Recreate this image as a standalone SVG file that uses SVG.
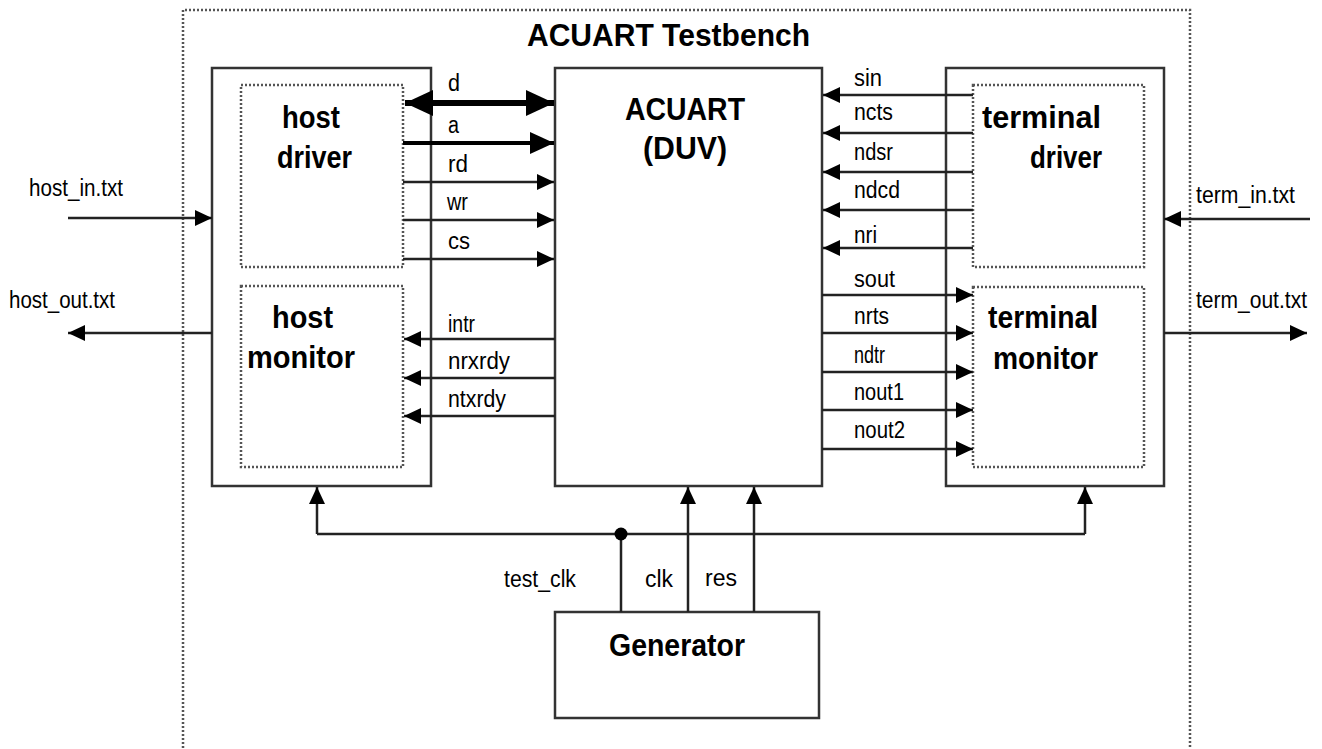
<svg xmlns="http://www.w3.org/2000/svg" width="1322" height="749" viewBox="0 0 1322 749">
<style>
.box{fill:#fff;stroke:#333;stroke-width:2.5}
.dot{fill:none;stroke:#555;stroke-width:2.5;stroke-dasharray:2 2}
.w{stroke:#222;stroke-width:2.5;fill:none}
.t{font-family:"Liberation Sans",Arial,sans-serif;font-size:23px;fill:#000}
.b{font-family:"Liberation Sans",Arial,sans-serif;font-size:32px;font-weight:bold;fill:#000}
</style>
<defs>
<marker id="ah" markerUnits="userSpaceOnUse" markerWidth="18" markerHeight="16" refX="17" refY="8" orient="auto"><path d="M0,0 L17,8 L0,16 z" fill="#000"/></marker>
<marker id="am" markerUnits="userSpaceOnUse" markerWidth="25" markerHeight="22" refX="24" refY="11" orient="auto"><path d="M0,0 L24,11 L0,22 z" fill="#000"/></marker>
<marker id="ab" markerUnits="userSpaceOnUse" markerWidth="29" markerHeight="26" refX="28" refY="13" orient="auto-start-reverse"><path d="M0,0 L28,13 L0,26 z" fill="#000"/></marker>
</defs>
<rect width="1322" height="749" fill="#fff"/>
<g id="testbench">
<path class="dot" d="M183,760 L183,10 L1190,10 L1190,760"/>
<text class="b" x="527" y="46" textLength="283" lengthAdjust="spacingAndGlyphs">ACUART Testbench</text>
</g>
<g id="host">
<rect class="box" x="212" y="68" width="219" height="418"/>
</g>
<g id="host_driver">
<rect class="dot" x="241" y="85" width="162" height="182"/>
<text class="b" x="282" y="128" textLength="58" lengthAdjust="spacingAndGlyphs">host</text>
<text class="b" x="277" y="168" textLength="75" lengthAdjust="spacingAndGlyphs">driver</text>
</g>
<g id="host_monitor">
<rect class="dot" x="241" y="286" width="162" height="181"/>
<text class="b" x="272" y="328" textLength="61" lengthAdjust="spacingAndGlyphs">host</text>
<text class="b" x="247" y="368" textLength="108" lengthAdjust="spacingAndGlyphs">monitor</text>
</g>
<g id="acuart">
<rect class="box" x="555" y="68" width="267" height="418"/>
<text class="b" x="625" y="120" textLength="120" lengthAdjust="spacingAndGlyphs">ACUART</text>
<text class="b" x="643" y="159" textLength="84" lengthAdjust="spacingAndGlyphs">(DUV)</text>
</g>
<g id="terminal">
<rect class="box" x="946" y="68" width="218" height="418"/>
</g>
<g id="terminal_driver">
<rect class="dot" x="973" y="85" width="171" height="182"/>
<text class="b" x="982" y="128" textLength="119" lengthAdjust="spacingAndGlyphs">terminal</text>
<text class="b" x="1030" y="168" textLength="72" lengthAdjust="spacingAndGlyphs">driver</text>
</g>
<g id="terminal_monitor">
<rect class="dot" x="973" y="287" width="171" height="180"/>
<text class="b" x="988" y="328" textLength="110" lengthAdjust="spacingAndGlyphs">terminal</text>
<text class="b" x="993" y="369" textLength="105" lengthAdjust="spacingAndGlyphs">monitor</text>
</g>
<g id="generator">
<rect class="box" x="555" y="612" width="264" height="106"/>
<text class="b" x="609" y="656" textLength="136" lengthAdjust="spacingAndGlyphs">Generator</text>
</g>
<g id="connectors">
<line x1="405" y1="103" x2="554" y2="103" stroke="#000" stroke-width="6" marker-start="url(#ab)" marker-end="url(#ab)"/>
<line x1="403" y1="143" x2="554" y2="143" stroke="#000" stroke-width="4" marker-end="url(#am)"/>
<line class="w" x1="403" y1="182" x2="554" y2="182" marker-end="url(#ah)"/>
<line class="w" x1="403" y1="220" x2="554" y2="220" marker-end="url(#ah)"/>
<line class="w" x1="403" y1="259" x2="554" y2="259" marker-end="url(#ah)"/>
<line class="w" x1="555" y1="339" x2="404" y2="339" marker-end="url(#ah)"/>
<line class="w" x1="555" y1="378" x2="404" y2="378" marker-end="url(#ah)"/>
<line class="w" x1="555" y1="416" x2="404" y2="416" marker-end="url(#ah)"/>
<line class="w" x1="973" y1="95" x2="823" y2="95" marker-end="url(#ah)"/>
<line class="w" x1="973" y1="133" x2="823" y2="133" marker-end="url(#ah)"/>
<line class="w" x1="973" y1="172" x2="823" y2="172" marker-end="url(#ah)"/>
<line class="w" x1="973" y1="210" x2="823" y2="210" marker-end="url(#ah)"/>
<line class="w" x1="973" y1="248" x2="823" y2="248" marker-end="url(#ah)"/>
<line class="w" x1="822" y1="295" x2="973" y2="295" marker-end="url(#ah)"/>
<line class="w" x1="822" y1="333" x2="973" y2="333" marker-end="url(#ah)"/>
<line class="w" x1="822" y1="372" x2="973" y2="372" marker-end="url(#ah)"/>
<line class="w" x1="822" y1="410" x2="973" y2="410" marker-end="url(#ah)"/>
<line class="w" x1="822" y1="449" x2="973" y2="449" marker-end="url(#ah)"/>
<line class="w" x1="68" y1="218" x2="212" y2="218" marker-end="url(#ah)"/>
<line class="w" x1="212" y1="333" x2="68" y2="333" marker-end="url(#ah)"/>
<line class="w" x1="1310" y1="219" x2="1164" y2="219" marker-end="url(#ah)"/>
<line class="w" x1="1164" y1="333" x2="1307" y2="333" marker-end="url(#ah)"/>
<line class="w" x1="317" y1="534" x2="317" y2="487" marker-end="url(#ah)"/>
<line class="w" x1="317" y1="534" x2="1085" y2="534"/>
<line class="w" x1="1085" y1="534" x2="1085" y2="487" marker-end="url(#ah)"/>
<line class="w" x1="621" y1="612" x2="621" y2="534"/>
<circle cx="621" cy="534" r="6.5" fill="#000"/>
<line class="w" x1="688" y1="612" x2="688" y2="487" marker-end="url(#ah)"/>
<line class="w" x1="754" y1="612" x2="754" y2="487" marker-end="url(#ah)"/>
<text class="t" x="448" y="91" textLength="12" lengthAdjust="spacingAndGlyphs">d</text>
<text class="t" x="448" y="133" textLength="11" lengthAdjust="spacingAndGlyphs">a</text>
<text class="t" x="448" y="172" textLength="20" lengthAdjust="spacingAndGlyphs">rd</text>
<text class="t" x="447" y="210" textLength="21" lengthAdjust="spacingAndGlyphs">wr</text>
<text class="t" x="448" y="249" textLength="22" lengthAdjust="spacingAndGlyphs">cs</text>
<text class="t" x="448" y="332" textLength="27" lengthAdjust="spacingAndGlyphs">intr</text>
<text class="t" x="448" y="369" textLength="62" lengthAdjust="spacingAndGlyphs">nrxrdy</text>
<text class="t" x="448" y="407" textLength="58" lengthAdjust="spacingAndGlyphs">ntxrdy</text>
<text class="t" x="854" y="86" textLength="28" lengthAdjust="spacingAndGlyphs">sin</text>
<text class="t" x="854" y="120" textLength="39" lengthAdjust="spacingAndGlyphs">ncts</text>
<text class="t" x="854" y="160" textLength="39" lengthAdjust="spacingAndGlyphs">ndsr</text>
<text class="t" x="854" y="198" textLength="46" lengthAdjust="spacingAndGlyphs">ndcd</text>
<text class="t" x="854" y="243" textLength="23" lengthAdjust="spacingAndGlyphs">nri</text>
<text class="t" x="854" y="287" textLength="41" lengthAdjust="spacingAndGlyphs">sout</text>
<text class="t" x="854" y="324" textLength="35" lengthAdjust="spacingAndGlyphs">nrts</text>
<text class="t" x="854" y="363" textLength="31" lengthAdjust="spacingAndGlyphs">ndtr</text>
<text class="t" x="854" y="400" textLength="50" lengthAdjust="spacingAndGlyphs">nout1</text>
<text class="t" x="854" y="438" textLength="51" lengthAdjust="spacingAndGlyphs">nout2</text>
<text class="t" x="29" y="196" textLength="94" lengthAdjust="spacingAndGlyphs">host_in.txt</text>
<text class="t" x="9" y="308" textLength="106" lengthAdjust="spacingAndGlyphs">host_out.txt</text>
<text class="t" x="1196" y="203" textLength="99" lengthAdjust="spacingAndGlyphs">term_in.txt</text>
<text class="t" x="1196" y="308" textLength="111" lengthAdjust="spacingAndGlyphs">term_out.txt</text>
<text class="t" x="504" y="587" textLength="72" lengthAdjust="spacingAndGlyphs">test_clk</text>
<text class="t" x="645" y="587" textLength="28" lengthAdjust="spacingAndGlyphs">clk</text>
<text class="t" x="705" y="586" textLength="32" lengthAdjust="spacingAndGlyphs">res</text>
</g>
</svg>
